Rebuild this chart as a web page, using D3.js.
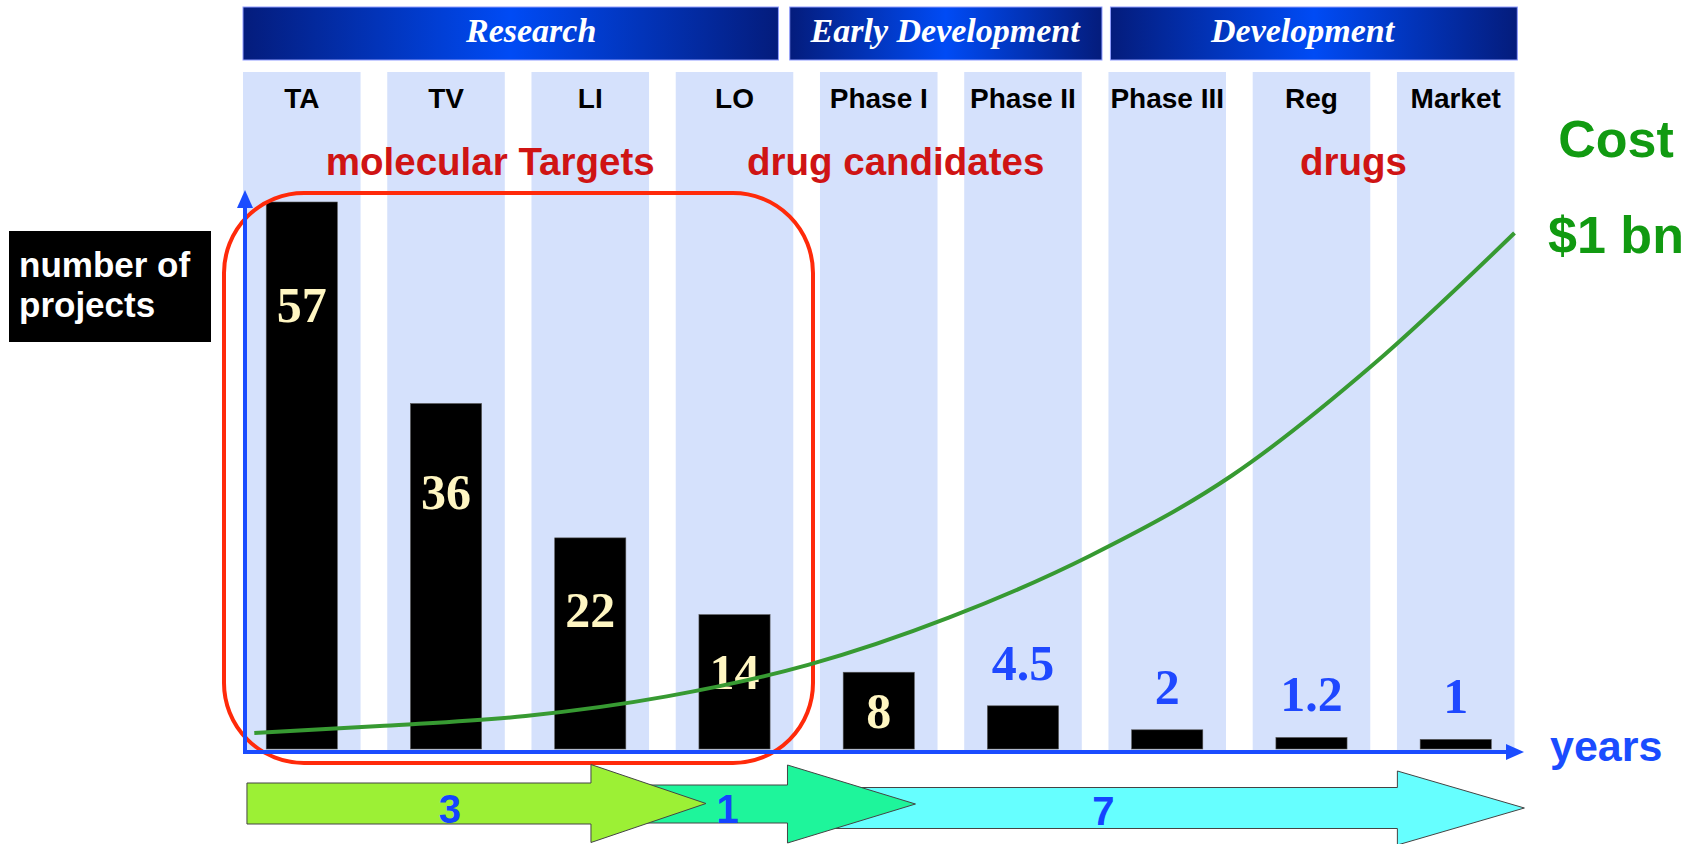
<!DOCTYPE html>
<html>
<head>
<meta charset="utf-8">
<script src="https://cdn.jsdelivr.net/npm/d3@7/dist/d3.min.js"></script>
<style>
  html, body { margin: 0; padding: 0; background: #ffffff; }
  svg { display: block; }
</style>
</head>
<body>
<script>
// ---- data ---------------------------------------------------------------
const stages = ["TA", "TV", "LI", "LO", "Phase I", "Phase II", "Phase III", "Reg", "Market"];
const projects = [57, 36, 22, 14, 8, 4.5, 2, 1.2, 1];

const phases = ["Research", "Early Development", "Development"];
const phaseYears = [3, 1, 7];

const outputs = ["molecular Targets", "drug candidates", "drugs"];

// cumulative cost ($ million) along the stage axis
const costStage = [0.08, 1, 2, 3, 4, 5, 6, 7, 8, 9];
const costMillions = [31, 45, 64, 102, 163, 255, 375, 530, 745, 1000];

// ---- layout -------------------------------------------------------------
const W = 1699, H = 844;
const left = 243, right = 1514.5, baseY = 749, axisY = 752, colTop = 72;

const svg = d3.select("body").append("svg").attr("width", W).attr("height", H);

const x = d3.scaleBand().domain(stages).range([left, right]).paddingInner(0.185).paddingOuter(0);
const sx = d3.scaleLinear().domain([0, stages.length]).range([left, right]); // continuous stage position
const y = d3.scaleLinear().domain([0, 57]).range([baseY, 202]);
const yCost = d3.scaleLinear().domain([0, 1000]).range([baseY, 233]);

const BLUE = "#1a4cff";
const sans = "'Liberation Sans', Arial, Helvetica, sans-serif";
const serif = "'Liberation Serif', 'Times New Roman', serif";

const defs = svg.append("defs");
const grad = defs.append("linearGradient").attr("id", "bannerGrad").attr("x1", "0%").attr("x2", "100%");
grad.append("stop").attr("offset", "0%").attr("stop-color", "#041c7c");
grad.append("stop").attr("offset", "50%").attr("stop-color", "#004bf5");
grad.append("stop").attr("offset", "100%").attr("stop-color", "#041c7c");

// stage columns
svg.append("g").selectAll("rect").data(stages).join("rect")
  .attr("x", d => x(d)).attr("y", colTop)
  .attr("width", x.bandwidth()).attr("height", axisY - colTop)
  .attr("fill", "#d5e1fc");

// phase banners (spans and title positions in stage units)
const bannerSpan = [[0, 3.79], [3.87, 6.08], [6.14, 9.02]];
const bannerTitleAt = [2.04, 4.97, 7.50];
const banners = svg.append("g");
phases.forEach((p, i) => {
  const x0 = sx(bannerSpan[i][0]), x1 = sx(bannerSpan[i][1]);
  banners.append("rect").attr("x", x0).attr("y", 7).attr("width", x1 - x0).attr("height", 53)
    .attr("fill", "url(#bannerGrad)").attr("stroke", "#8f9cff").attr("stroke-width", 1);
  banners.append("text").attr("x", sx(bannerTitleAt[i])).attr("y", 42)
    .attr("text-anchor", "middle").attr("fill", "#ffffff")
    .style("font-family", serif).style("font-weight", "bold").style("font-style", "italic")
    .style("font-size", "34px").text(p);
});

// stage names
svg.append("g").selectAll("text").data(stages).join("text")
  .attr("x", d => x(d) + x.bandwidth() / 2).attr("y", 108)
  .attr("text-anchor", "middle").attr("fill", "#000")
  .style("font-family", sans).style("font-weight", "bold").style("font-size", "28px")
  .text(d => d);

// what each part of the pipeline yields
const outputAt = [1.75, 4.62, 7.86];
svg.append("g").selectAll("text").data(outputs).join("text")
  .attr("x", (d, i) => sx(outputAt[i])).attr("y", 175)
  .attr("text-anchor", "middle").attr("fill", "#cf1414")
  .style("font-family", sans).style("font-weight", "bold").style("font-size", "38.5px")
  .text(d => d);

// bars
const barW = x.bandwidth() * 0.605;
const bars = stages.map((s, i) => ({ stage: s, value: projects[i] }));
svg.append("g").selectAll("rect").data(bars).join("rect")
  .attr("x", d => x(d.stage) + (x.bandwidth() - barW) / 2)
  .attr("y", d => y(d.value))
  .attr("width", barW).attr("height", d => baseY - y(d.value))
  .attr("fill", "#000").attr("stroke", "#555").attr("stroke-width", 0.6);

// value labels: inside tall bars, above short ones
const labels = svg.append("g");
bars.forEach(d => {
  const h = baseY - y(d.value);
  const cx = x(d.stage) + x.bandwidth() / 2;
  const inside = h > 60;
  labels.append("text")
    .attr("x", cx)
    .attr("y", inside ? y(d.value) + (-85.5 + 32.6 * Math.log(h)) : y(d.value) - 26)
    .attr("text-anchor", "middle")
    .attr("fill", inside ? "#fff6c2" : "#1f48ff")
    .style("font-family", serif).style("font-weight", "bold").style("font-size", "50px")
    .text(d.value);
});

// research stages frame
svg.append("rect").attr("x", 224).attr("y", 193).attr("width", 813 - 224).attr("height", 763 - 193)
  .attr("rx", 80).attr("ry", 80)
  .attr("fill", "none").attr("stroke", "#ff2a0a").attr("stroke-width", 4);

// axes
const axes = svg.append("g").attr("fill", BLUE);
axes.append("line").attr("x1", 245).attr("x2", 245).attr("y1", axisY + 2).attr("y2", 205)
  .attr("stroke", BLUE).attr("stroke-width", 4);
axes.append("path").attr("d", "M245,190 L237,208 L253,208 Z");
axes.append("line").attr("x1", 243).attr("x2", 1510).attr("y1", axisY).attr("y2", axisY)
  .attr("stroke", BLUE).attr("stroke-width", 4);
axes.append("path").attr("d", `M1524,${axisY} L1506,${axisY - 8} L1506,${axisY + 8} Z`);
axes.append("text").attr("x", 1550).attr("y", 761).attr("fill", BLUE)
  .style("font-family", sans).style("font-weight", "bold").style("font-size", "43px").text("years");

// y-axis title
svg.append("rect").attr("x", 9).attr("y", 231).attr("width", 202).attr("height", 111).attr("fill", "#000");
svg.append("text").attr("x", 19).attr("y", 277).attr("fill", "#fff")
  .style("font-family", sans).style("font-weight", "bold").style("font-size", "35px").text("number of");
svg.append("text").attr("x", 19).attr("y", 317).attr("fill", "#fff")
  .style("font-family", sans).style("font-weight", "bold").style("font-size", "35px").text("projects");

// cost curve
const costPts = costStage.map((s, i) => [s, costMillions[i]]);
svg.append("path").datum(costPts)
  .attr("d", d3.line().x(d => sx(d[0])).y(d => yCost(d[1])).curve(d3.curveMonotoneX))
  .attr("fill", "none").attr("stroke", "#379a32").attr("stroke-width", 4);

svg.append("text").attr("x", 1616).attr("y", 157).attr("text-anchor", "middle").attr("fill", "#119a11")
  .style("font-family", sans).style("font-weight", "bold").style("font-size", "52px").text("Cost");
svg.append("text").attr("x", 1616).attr("y", 253).attr("text-anchor", "middle").attr("fill", "#119a11")
  .style("font-family", sans).style("font-weight", "bold").style("font-size", "52px")
  .text("$" + d3.format(".0f")(costMillions[costMillions.length - 1] / 1000) + " bn");

// duration arrows (drawn back to front); spans and label positions in stage units
const arrowSpec = [
  { span: [0.028, 3.277], at: 1.465, cy: 803.5, body: 20.5, head: 39, len: 115, fill: "#9cf035", ty: 823 },
  { span: [2.55, 4.76], at: 3.43, cy: 804, body: 19, head: 39, len: 128, fill: "#1ef59b", ty: 823 },
  { span: [4.0, 9.07], at: 6.09, cy: 808, body: 20.5, head: 37, len: 127, fill: "#66ffff", ty: 825 }
];
function arrowPath(a) {
  const x0 = sx(a.span[0]), x1 = sx(a.span[1]), hb = x1 - a.len;
  return `M${x0},${a.cy - a.body} L${hb},${a.cy - a.body} L${hb},${a.cy - a.head} L${x1},${a.cy} ` +
         `L${hb},${a.cy + a.head} L${hb},${a.cy + a.body} L${x0},${a.cy + a.body} Z`;
}
const arrows = svg.append("g");
[2, 1, 0].forEach(i => {
  const a = arrowSpec[i];
  arrows.append("path").attr("d", arrowPath(a)).attr("fill", a.fill)
    .attr("stroke", "#444").attr("stroke-width", 1);
});
[2, 1, 0].forEach(i => {
  const a = arrowSpec[i];
  arrows.append("text").attr("x", sx(a.at)).attr("y", a.ty)
    .attr("text-anchor", "middle").attr("fill", "#1444ff")
    .style("font-family", sans).style("font-weight", "bold").style("font-size", "40px")
    .text(phaseYears[i]);
});
</script>
</body>
</html>
